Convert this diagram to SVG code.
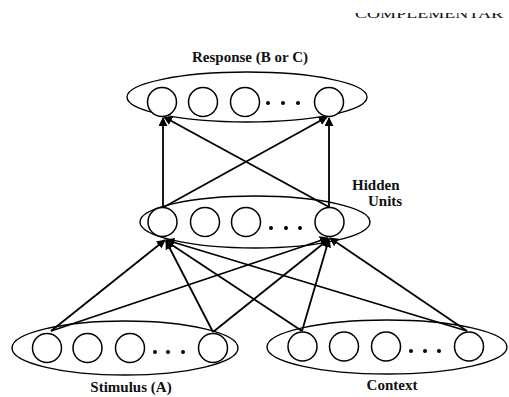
<svg xmlns="http://www.w3.org/2000/svg" width="509" height="397" viewBox="0 0 509 397">
  <style>
    .pool { fill: none; stroke: #000; stroke-width: 1.4; }
    .unit { fill: #fff; stroke: #000; stroke-width: 1.5; }
    .dot { fill: #000; }
    .label { font-family: "Liberation Serif", "Times New Roman", serif; font-weight: bold; font-size: 15px; fill: #111; }
    .link { stroke: #000; stroke-width: 1.8; fill: none; marker-end: url(#tip); }
  </style>
  <defs>
    <marker id="tip" viewBox="0 0 10 10" refX="9" refY="5" markerWidth="5" markerHeight="5" orient="auto" markerUnits="strokeWidth">
      <path d="M0,0 L10,5 L0,10 Z" fill="#000"/>
    </marker>
    <clipPath id="headClip">
      <rect x="340" y="13" width="169" height="10"/>
    </clipPath>
  </defs>
  <rect width="509" height="397" fill="#fff"/>

  <!-- running page header, trimmed at the top edge -->
  <text x="355" y="17.5" class="label" style="font-weight:normal;font-size:13px" textLength="148" lengthAdjust="spacingAndGlyphs" clip-path="url(#headClip)">COMPLEMENTAR</text>

  <!-- connectors -->
  <g id="connectors">
    <!-- hidden to response -->
    <line class="link" x1="163" y1="207" x2="163" y2="118"/>
    <line class="link" x1="164" y1="207" x2="327" y2="117"/>
    <line class="link" x1="329" y1="207" x2="164" y2="117"/>
    <line class="link" x1="329" y1="207" x2="329" y2="118"/>
    <!-- stimulus to hidden -->
    <line class="link" x1="51" y1="331" x2="165" y2="240"/>
    <line class="link" x1="51" y1="331" x2="328" y2="238"/>
    <line class="link" x1="213" y1="332" x2="166" y2="241"/>
    <line class="link" x1="213" y1="332" x2="329" y2="239"/>
    <!-- context to hidden -->
    <line class="link" x1="302" y1="331" x2="166" y2="241"/>
    <line class="link" x1="302" y1="331" x2="329" y2="239"/>
    <line class="link" x1="467" y1="331" x2="166" y2="240"/>
    <line class="link" x1="467" y1="331" x2="330" y2="238"/>
  </g>

  <!-- response layer -->
  <g id="response">
    <ellipse class="pool" cx="247" cy="97" rx="120" ry="25"/>
    <circle class="unit" cx="162" cy="102" r="14.5"/>
    <circle class="unit" cx="203" cy="102" r="14.5"/>
    <circle class="unit" cx="245" cy="102" r="14.5"/>
    <circle class="dot" cx="268" cy="103" r="2"/>
    <circle class="dot" cx="283" cy="103" r="2"/>
    <circle class="dot" cx="298" cy="103" r="2"/>
    <circle class="unit" cx="329" cy="102" r="14.5"/>
    <text class="label" x="250" y="62" text-anchor="middle">Response (B or C)</text>
  </g>

  <!-- hidden layer -->
  <g id="hidden">
    <ellipse class="pool" cx="255" cy="222" rx="115" ry="26"/>
    <circle class="unit" cx="162.5" cy="222" r="14.5"/>
    <circle class="unit" cx="205" cy="222" r="14.5"/>
    <circle class="unit" cx="246" cy="222" r="14.5"/>
    <circle class="dot" cx="271" cy="228" r="2"/>
    <circle class="dot" cx="286" cy="228" r="2"/>
    <circle class="dot" cx="300" cy="228" r="2"/>
    <circle class="unit" cx="329.5" cy="222" r="14.5"/>
    <text class="label" x="352" y="190">Hidden</text>
    <text class="label" x="368" y="206">Units</text>
  </g>

  <!-- stimulus layer -->
  <g id="stimulus">
    <ellipse class="pool" cx="125" cy="348" rx="113" ry="27"/>
    <circle class="unit" cx="47" cy="348" r="14.5"/>
    <circle class="unit" cx="87.5" cy="348" r="14.5"/>
    <circle class="unit" cx="130" cy="348" r="14.5"/>
    <circle class="dot" cx="155" cy="352" r="2"/>
    <circle class="dot" cx="168" cy="352" r="2"/>
    <circle class="dot" cx="183" cy="352" r="2"/>
    <circle class="unit" cx="213" cy="348" r="14.5"/>
    <text class="label" x="131" y="392" text-anchor="middle">Stimulus (A)</text>
  </g>

  <!-- context layer -->
  <g id="context">
    <ellipse class="pool" cx="387" cy="347" rx="120" ry="27"/>
    <circle class="unit" cx="302.5" cy="346.5" r="14.5"/>
    <circle class="unit" cx="344" cy="346.5" r="14.5"/>
    <circle class="unit" cx="386" cy="346.5" r="14.5"/>
    <circle class="dot" cx="411" cy="351" r="2"/>
    <circle class="dot" cx="425" cy="351" r="2"/>
    <circle class="dot" cx="439" cy="351" r="2"/>
    <circle class="unit" cx="469" cy="346.5" r="14.5"/>
    <text class="label" x="392" y="390" text-anchor="middle">Context</text>
  </g>
</svg>
